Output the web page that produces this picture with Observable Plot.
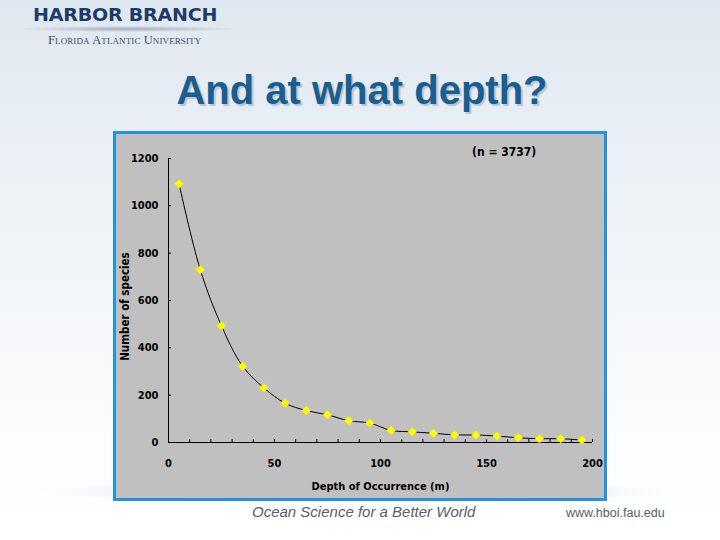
<!DOCTYPE html>
<html>
<head>
<meta charset="utf-8">
<script src="https://cdn.jsdelivr.net/npm/d3@7"></script>
<script src="https://cdn.jsdelivr.net/npm/@observablehq/plot@0.6"></script>
<style>
  html, body { margin: 0; padding: 0; }
  body { width: 720px; height: 540px; overflow: hidden; position: relative;
    background: linear-gradient(180deg, #dfe7f0 0%, #e9eff5 25%, #f3f6f9 55%, #fbfcfd 80%, #ffffff 100%);
    font-family: "Liberation Sans", Arial, sans-serif; }
  .logo1 { position: absolute; left: 33px; top: 5px; font-family: "DejaVu Sans", sans-serif; font-weight: bold;
    font-size: 17px; color: #1d3b68; letter-spacing: -0.2px; transform: scaleX(1.12); transform-origin: left; }
  .wave { position: absolute; left: 20px; top: 26px; width: 215px; height: 6px;
    background: radial-gradient(ellipse at center, rgba(120,135,150,0.6) 0%, rgba(150,160,170,0.25) 50%, rgba(255,255,255,0) 72%); }
  .logo2 { position: absolute; left: 48px; top: 33px; font-family: "Liberation Serif", serif; font-size: 12.5px;
    color: #3a4f73; font-variant: small-caps; letter-spacing: 0.1px; }
  .title { position: absolute; left: 0; width: 724px; top: 68px; text-align: center;
    font-family: "Liberation Sans", Arial, sans-serif; font-weight: bold; font-size: 40px; color: #1b5e8e;
    text-shadow: 2px 2px 1px rgba(150,170,190,0.6); }
  .band { position: absolute; left: 35px; top: 478px; width: 640px; height: 26px;
    background: radial-gradient(ellipse at center, rgba(170,185,205,0.45) 0%, rgba(200,210,222,0.3) 45%, rgba(255,255,255,0) 70%); }
  .panel { position: absolute; left: 113px; top: 131px; width: 488px; height: 364px;
    border: 3px solid #2390e0; background: #c0c0c0; }
  .panel svg { display: block; }
  .n { position: absolute; left: 356px; top: 11px; font-family: "DejaVu Sans Condensed", "Liberation Sans", sans-serif;
    font-stretch: condensed; font-weight: bold; font-size: 12px; color: #000; }
  .foot1 { position: absolute; left: 252px; top: 503px; font-family: "Liberation Sans", sans-serif; font-style: italic;
    font-size: 15px; color: #5a5f66; }
  .foot2 { position: absolute; left: 566px; top: 506px; font-family: "Liberation Sans", sans-serif;
    font-size: 12.5px; color: #5a5f66; }
</style>
</head>
<body>
<div class="logo1">HARBOR BRANCH</div>
<div class="wave"></div>
<div class="logo2">Florida Atlantic University</div>
<div class="title">And at what depth?</div>
<div class="band"></div>
<div class="panel" id="panel"><div class="n">(n = 3737)</div></div>
<div class="foot1">Ocean Science for a Better World</div>
<div class="foot2">www.hboi.fau.edu</div>
<script>
// Depth bin midpoints (m)
const depth = [5, 15, 25, 35, 45, 55, 65, 75, 85, 95, 105, 115, 125, 135, 145, 155, 165, 175, 185, 195];
// Number of species per depth bin
const species = [1092, 730, 493, 322, 231, 166, 135, 117, 92, 82, 51, 45, 39, 32, 32, 27, 20, 16, 16, 10];
// Tick labels
const xTicks = [0, 50, 100, 150, 200];
const xMinorTicks = [0, 10, 20, 30, 40, 50, 60, 70, 80, 90, 100, 110, 120, 130, 140, 150, 160, 170, 180, 190, 200];
const yTicks = [0, 200, 400, 600, 800, 1000, 1200];
const xTitle = "Depth of Occurrence (m)";
const yTitle = "Number of species";

const data = depth.map((d, i) => ({depth: d, species: species[i]}));
const font = "'DejaVu Sans Condensed', 'Liberation Sans', sans-serif";

const chart = Plot.plot({
  width: 488,
  height: 364,
  marginLeft: 52,
  marginRight: 12,
  marginTop: 24,
  marginBottom: 56,
  style: { background: "transparent", fontFamily: font, fontStretch: "condensed", fontSize: "11px", fontWeight: "bold", color: "#000" },
  x: { domain: [0, 200] },
  y: { domain: [0, 1200] },
  marks: [
    Plot.axisX({ ticks: xMinorTicks, tickSize: 3, dy: -3, tickFormat: () => "", label: null, stroke: "#000" }),
    Plot.axisY({ ticks: yTicks, tickSize: 3, dx: 3, tickFormat: () => "", label: null, stroke: "#000" }),
    Plot.axisX({ ticks: xTicks, tickSize: 0, tickPadding: 17, tickFormat: d3.format("d"), label: null, fontWeight: "bold", fontSize: 11 }),
    Plot.axisY({ ticks: yTicks, tickSize: 0, tickPadding: 10, tickFormat: d3.format("d"), label: null, fontWeight: "bold", fontSize: 11 }),
    Plot.ruleY([0], { stroke: "#000" }),
    Plot.ruleX([0], { stroke: "#000" }),
    Plot.line(data, { x: "depth", y: "species", curve: "catmull-rom", stroke: "#000", strokeWidth: 1 }),
    Plot.dot(data, { x: "depth", y: "species", symbol: "diamond2", r: 3.8, fill: "#ffff00", stroke: "#f2f200", strokeWidth: 0.8 }),
    Plot.text([xTitle], { frameAnchor: "bottom", dy: 47, fontWeight: "bold", fontSize: 11, fill: "#000" }),
    Plot.text([yTitle], { frameAnchor: "left", textAnchor: "middle", rotate: -90, dx: -43, dy: 6, fontWeight: "bold", fontSize: 11.5, fill: "#000" })
  ]
});
document.getElementById("panel").appendChild(chart);
</script>
</body>
</html>
